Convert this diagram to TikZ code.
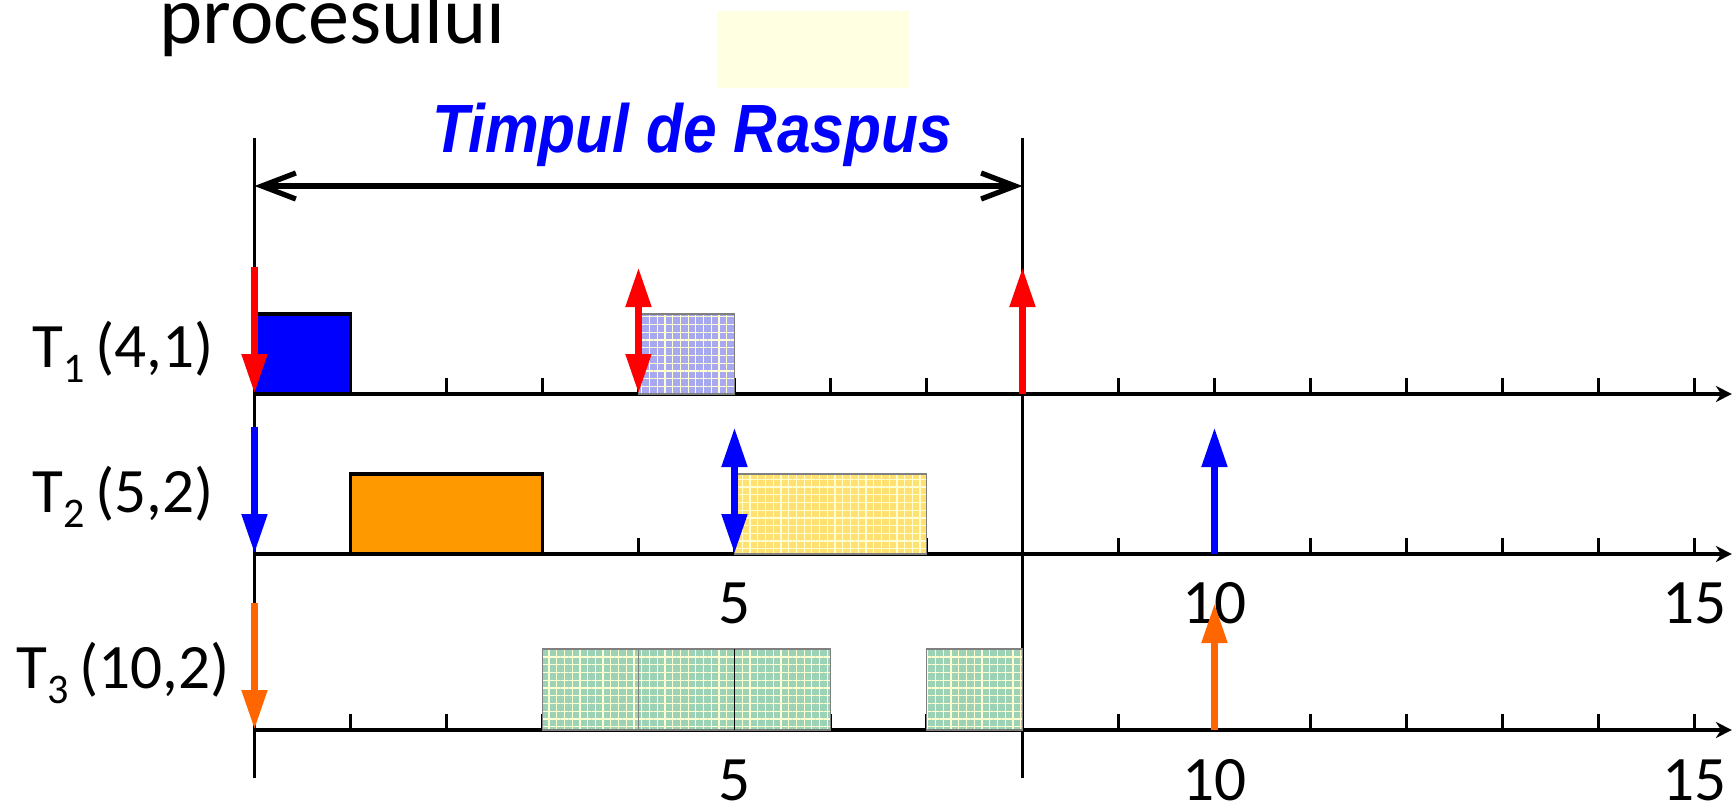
\documentclass[tikz,border=0pt]{standalone}
\usepackage{fontspec}
\usepackage{graphicx}
\setmainfont{Carlito}
\newfontfamily\rspfont{Liberation Sans}
\usetikzlibrary{arrows.meta,patterns.meta}
\definecolor{jobblue}{RGB}{0,0,255}
\definecolor{joborange}{RGB}{255,153,0}
\definecolor{evred}{RGB}{255,0,0}
\definecolor{evorange}{RGB}{255,102,0}
\definecolor{chkblue}{RGB}{168,168,240}
\definecolor{chkyellow}{RGB}{255,224,112}
\definecolor{chkgreen}{RGB}{156,210,182}
\definecolor{chkline}{RGB}{255,255,210}
\definecolor{paleyellow}{RGB}{255,255,226}
\tikzset{
  axis/.style   = {-{Stealth[length=1.6mm,width=1.6mm]}, line width=0.9pt},
  tickmark/.style = {line width=0.8pt},
  guide/.style  = {line width=0.7pt},
  runbox/.style = {draw=black, line width=1.1pt},
  chkbox/.style = {draw=black!50, line width=0.4pt},
  chkfill/.style = {pattern={Hatch[angle=0,distance=2.2pt,line width=0.35pt]},
                    pattern color=chkline},
  ev/.style     = {line width=2.2pt, -{Triangle[length=4mm,width=2.4mm]}},
  evboth/.style = {line width=2.2pt,
                   {Triangle[length=4mm,width=2.4mm]}-{Triangle[length=4mm,width=2.4mm]}}
}

\begin{document}
\begin{tikzpicture}[
    x=0.96cm, y=1cm,
    lbl/.style={font=\fontsize{18}{18}\selectfont, inner sep=0pt},
    rsp/.style={font=\rspfont\bfseries\itshape\fontsize{18.5}{18.5}\selectfont,
                text=jobblue, inner sep=0pt}
  ]
  \useasboundingbox (-2.651,0) rectangle (15.422,8.04);

  % ===================== titlu si fundal =====================
  \fill[paleyellow] (4.82,7.16) rectangle (6.83,7.93);
  \node[font=\fontsize{23.4}{23.4}\selectfont, inner sep=0pt, anchor=base west]
    (proc) at (-0.995,7.61) {procesului};

  % ===================== axe si repere =====================
  \draw[guide] (0,0.26) -- (0,6.66);
  \draw[guide] (8,0.26) -- (8,6.66);
  \foreach \y in {4.10, 2.50, 0.74} {
    \draw[axis] (0,\y) -- (15.39,\y);
    \foreach \t in {1,...,15}
      \draw[tickmark] (\t,\y) -- (\t,\y+0.16);
  }

  % ===================== timpul de raspuns =====================
  \coordinate (rs) at (0,6.18);
  \coordinate (re) at (8,6.18);
  \draw[{Straight Barb[length=3.4mm,width=2.6mm]}-{Straight Barb[length=3.4mm,width=2.6mm]},
        line width=1.5pt] (rs) -- (re);
  \node[rsp, anchor=base] (tr) at (4.56,6.52) {\scalebox{0.93}[1.05]{Timpul de Raspus}};

  % ===================== executii =====================
  \fill[runbox, fill=jobblue] (0,4.10) rectangle (1,4.90);
  \fill[chkblue] (4,4.10) rectangle (5,4.90);
  \fill[chkfill] (4,4.10) rectangle (5,4.90);
  \draw[chkbox] (4,4.10) rectangle (5,4.90);

  \fill[runbox, fill=joborange] (1,2.50) rectangle (3,3.30);
  \fill[chkyellow] (5,2.50) rectangle (7,3.30);
  \fill[chkfill] (5,2.50) rectangle (7,3.30);
  \draw[chkbox] (5,2.50) rectangle (7,3.30);

  \foreach \a in {3,4,5,7} {
    \fill[chkgreen] (\a,0.74) rectangle (\a+1,1.55);
    \fill[chkfill] (\a,0.74) rectangle (\a+1,1.55);
    \draw[chkbox] (\a,0.74) rectangle (\a+1,1.55);
  }
  \draw[line width=0.5pt] (5,0.74) -- (5,1.55);

  % ===================== etichete =====================
  \node[lbl, anchor=base] (lt1) at (-1.37,4.37)
    {T\raisebox{-4.5pt}{\fontsize{12}{12}\selectfont 1}\,(4,1)};
  \node[lbl, anchor=base] (lt2) at (-1.37,2.92)
    {T\raisebox{-4.5pt}{\fontsize{12}{12}\selectfont 2}\,(5,2)};
  \node[lbl, anchor=base] (lt3) at (-1.37,1.16)
    {T\raisebox{-4.5pt}{\fontsize{12}{12}\selectfont 3}\,(10,2)};
  \foreach \t in {5,10,15} {
    \node[lbl] (na\t) at (\t,2.01) {\t};
    \node[lbl] (nb\t) at (\t,0.24) {\t};
  }

  % ===================== evenimente =====================
  \draw[ev, evred] (0,5.37) -- (0,4.10);
  \draw[evboth, evred] (4,5.37) -- (4,4.10);
  \draw[ev, evred] (8,4.10) -- (8,5.37);

  \draw[ev, jobblue] (0,3.77) -- (0,2.50);
  \draw[evboth, jobblue] (5,3.77) -- (5,2.50);
  \draw[ev, jobblue] (10,2.50) -- (10,3.77);

  \draw[ev, evorange] (0,2.01) -- (0,0.74);
  \draw[ev, evorange] (10,0.74) -- (10,2.01);
\end{tikzpicture}
\end{document}
